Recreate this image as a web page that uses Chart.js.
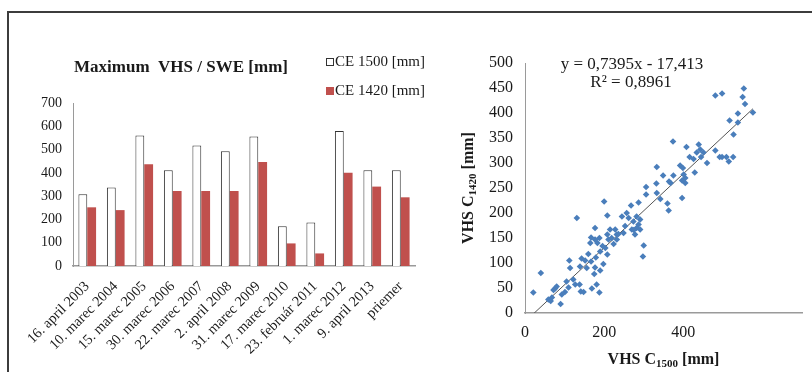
<!DOCTYPE html>
<html>
<head>
<meta charset="utf-8">
<script src="https://cdn.jsdelivr.net/npm/chart.js@4.4.1/dist/chart.umd.min.js"></script>
<style>
  body { margin: 0; background: #fff; }
  #wrap { position: relative; width: 812px; height: 372px; overflow: hidden; background: #fff; }
  #frame { position: absolute; left: 7px; top: 11px; width: 900px; height: 500px; border: 2px solid #3c3c3c; pointer-events: none; }
  #bars { position: absolute; left: 0; top: 0; }
  #scatter { position: absolute; left: 450px; top: 0; }
</style>
</head>
<body>
<div id="wrap">
  <canvas id="bars" width="450" height="372"></canvas>
  <canvas id="scatter" width="362" height="372"></canvas>
  <div id="frame"></div>
</div>
<script>
// Bar chart data
const dates = ['16. april 2003', '10. marec 2004', '15. marec 2005', '30. marec 2006', '22. marec 2007',
  '2. april 2008', '31. marec 2009', '17. marec 2010', '23. február 2011', '1. marec 2012', '9. april 2013', 'priemer'];
const ce1500 = [308, 337, 560, 411, 517, 493, 556, 171, 187, 580, 411, 411];
const ce1420 = [252, 240, 437, 322, 322, 322, 447, 97, 54, 400, 341, 295];

// Scatter data (VHS C1500 vs VHS C1420)
const vhs1500 = [21, 40, 59, 68, 76, 80, 90, 93, 101, 110, 112, 114, 122, 127, 138, 141, 148, 139, 143, 152,
  156, 169, 175, 181, 188, 131, 208, 177, 167, 177, 188, 165, 183, 208, 215, 211, 224, 232, 203, 190,
  208, 179, 167, 198, 177, 190, 200, 228, 249, 245, 257, 268, 262, 274, 282, 291, 287, 270, 282, 291,
  278, 287, 306, 306, 333, 332, 349, 333, 342, 360, 363, 375, 368, 392, 399, 405, 397, 300, 298, 219,
  232, 374, 408, 439, 443, 434, 451, 416, 426, 445, 460, 401, 397, 405, 429, 364, 481, 498, 553, 550,
  556, 576, 538, 517, 538, 527, 481, 492, 498, 509, 526, 515, 65, 72, 105, 160, 196, 236, 253, 275];
const vhs1420 = [41, 80, 27, 31, 49, 53, 18, 37, 42, 51, 105, 90, 67, 57, 57, 43, 42, 93, 109, 105,
  90, 49, 78, 57, 41, 190, 195, 170, 151, 147, 150, 140, 140, 157, 167, 147, 138, 157, 130, 123,
  117, 111, 103, 98, 91, 85, 223, 167, 160, 193, 200, 215, 190, 183, 193, 187, 177, 167, 170, 167,
  157, 221, 237, 252, 292, 259, 275, 240, 228, 219, 205, 275, 260, 295, 290, 270, 230, 135, 113, 150,
  147, 343, 332, 337, 327, 321, 321, 312, 308, 312, 300, 277, 265, 260, 281, 263, 435, 439, 449, 432,
  418, 401, 399, 385, 381, 357, 325, 312, 312, 312, 312, 303, 24, 46, 63, 118, 134, 158, 174, 166];

// Trendline as shown on the chart
const slope = 0.7395;
const intercept = -17.413;

const serif = '"Liberation Serif", "Times New Roman", serif';
const textColor = '#1a1a1a';
const axisColor = '#9a9a9a';

function drawParts(ctx, parts, cx, cy) {
  // parts: [text, font, dy]; draws a run of text centered on cx
  let total = 0;
  parts.forEach(p => { ctx.font = p[1]; total += ctx.measureText(p[0]).width; });
  let x = cx - total / 2;
  ctx.textAlign = 'left';
  ctx.textBaseline = 'middle';
  parts.forEach(p => {
    ctx.font = p[1];
    ctx.fillText(p[0], x, cy + p[2]);
    x += ctx.measureText(p[0]).width;
  });
}

const barText = {
  id: 'barText',
  afterDraw(chart) {
    const ctx = chart.ctx;
    ctx.save();
    ctx.fillStyle = textColor;
    ctx.textAlign = 'center';
    ctx.textBaseline = 'middle';
    ctx.font = 'bold 17px ' + serif;
    ctx.fillText('Maximum  VHS / SWE [mm]', 181, 68);

    // legend
    ctx.font = '15px ' + serif;
    ctx.textAlign = 'left';
    ctx.strokeStyle = '#333';
    ctx.lineWidth = 1;
    ctx.fillStyle = '#fff';
    ctx.fillRect(326.5, 58.5, 7, 7);
    ctx.strokeRect(326.5, 58.5, 7, 7);
    ctx.fillStyle = textColor;
    ctx.fillText('CE 1500 [mm]', 335, 62);
    ctx.fillStyle = '#C0504D';
    ctx.fillRect(326, 87, 8, 8);
    ctx.fillStyle = textColor;
    ctx.fillText('CE 1420 [mm]', 335, 91);
    ctx.restore();
  }
};

new Chart(document.getElementById('bars'), {
  type: 'bar',
  data: {
    labels: dates,
    datasets: [
      { label: 'CE 1500 [mm]', data: ce1500, backgroundColor: '#ffffff', borderColor: '#333333', borderWidth: 1,
        categoryPercentage: 0.62, barPercentage: 1 },
      { label: 'CE 1420 [mm]', data: ce1420, backgroundColor: '#C0504D', borderWidth: 0,
        categoryPercentage: 0.62, barPercentage: 1 }
    ]
  },
  options: {
    responsive: false,
    animation: false,
    layout: { padding: { top: 103, right: 35, left: 0, bottom: 0 } },
    plugins: { legend: { display: false }, title: { display: false }, tooltip: { enabled: false } },
    scales: {
      x: {
        grid: { display: false },
        border: { color: axisColor, width: 1.5 },
        ticks: { autoSkip: false, maxRotation: 45, minRotation: 45, padding: 4, color: textColor,
          font: { family: serif, size: 14.5 } },
        afterFit(scale) { scale.height = 106; }
      },
      y: {
        min: 0, max: 700,
        grid: { display: false, drawTicks: false },
        border: { color: axisColor, width: 1 },
        ticks: { stepSize: 100, padding: 11, color: textColor, font: { family: serif, size: 14 } },
        afterFit(scale) { scale.width = 73; }
      }
    }
  },
  plugins: [barText]
});

const scatterText = {
  id: 'scatterText',
  afterDraw(chart) {
    const ctx = chart.ctx;
    const a = chart.chartArea;
    ctx.save();
    ctx.fillStyle = textColor;
    ctx.textAlign = 'center';
    ctx.textBaseline = 'middle';
    ctx.font = '17px ' + serif;
    ctx.fillText('y = 0,7395x - 17,413', a.left + 107, 65);
    ctx.fillText('R² = 0,8961', a.left + 106, 83);

    // x axis title
    drawParts(ctx, [['VHS C', 'bold 16px ' + serif, 0], ['1500', 'bold 11px ' + serif, 4], [' [mm]', 'bold 16px ' + serif, 0]],
      (a.left + a.right) / 2, 360);

    // y axis title, rotated
    ctx.translate(19, (a.top + a.bottom) / 2);
    ctx.rotate(-Math.PI / 2);
    drawParts(ctx, [['VHS C', 'bold 16px ' + serif, 0], ['1420', 'bold 11px ' + serif, 4], [' [mm]', 'bold 16px ' + serif, 0]],
      0, 0);
    ctx.restore();
  }
};

const points = vhs1500.map((x, i) => ({ x: x, y: vhs1420[i] }));
const xMin = Math.min(...vhs1500);
const xMax = Math.max(...vhs1500);

new Chart(document.getElementById('scatter'), {
  type: 'scatter',
  data: {
    datasets: [
      { data: points, pointStyle: 'rectRot', pointRadius: 3.3, backgroundColor: '#4A7EBB', borderColor: '#4A7EBB',
        borderWidth: 0 },
      { type: 'line', data: [{ x: xMin, y: slope * xMin + intercept }, { x: xMax, y: slope * xMax + intercept }],
        showLine: true, borderColor: '#555555', borderWidth: 1, pointRadius: 0 }
    ]
  },
  options: {
    responsive: false,
    animation: false,
    layout: { padding: { top: 63, right: 10, left: 0, bottom: 0 } },
    plugins: { legend: { display: false }, tooltip: { enabled: false } },
    scales: {
      x: {
        type: 'linear', min: 0, max: 700,
        grid: { display: false, drawTicks: false },
        border: { color: axisColor, width: 1.5 },
        ticks: { stepSize: 200, padding: 10, color: textColor, font: { family: serif, size: 16 },
          callback: v => (v % 200 === 0 ? v : '') },
        afterFit(scale) { scale.height = 59; }
      },
      y: {
        min: 0, max: 500,
        grid: { display: false, drawTicks: false },
        border: { color: axisColor, width: 1 },
        ticks: { stepSize: 50, padding: 12, color: textColor, font: { family: serif, size: 16 } },
        afterFit(scale) { scale.width = 75; }
      }
    }
  },
  plugins: [scatterText]
});
</script>
</body>
</html>
